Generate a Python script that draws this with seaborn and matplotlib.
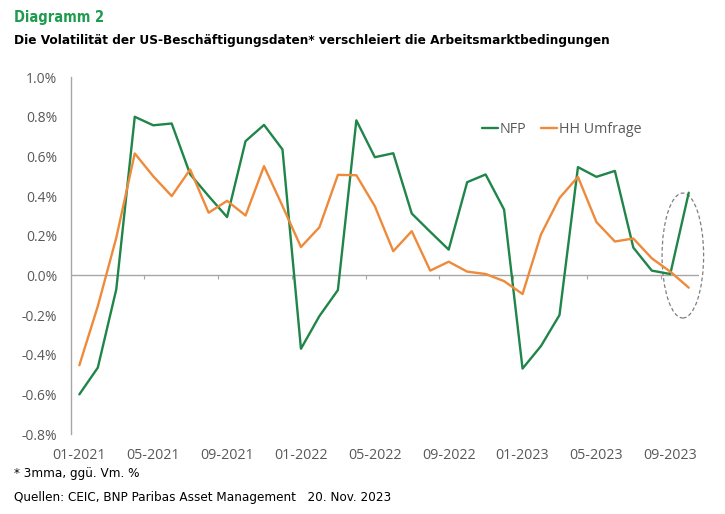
import pandas as pd
import seaborn as sns
import matplotlib.pyplot as plt
from matplotlib.patches import Ellipse

# Monthly values, 3mma m/m in %, Jan 2021 .. Oct 2023
months = pd.date_range("2021-01-01", "2023-10-01", freq="MS").strftime("%m-%Y").tolist()
nfp = [-0.60, -0.465, -0.07, 0.80, 0.757, 0.766, 0.51, 0.40, 0.294, 0.677, 0.759, 0.635,
       -0.37, -0.205, -0.074, 0.782, 0.596, 0.616, 0.312, 0.22, 0.13, 0.47, 0.509, 0.332,
       -0.47, -0.356, -0.20, 0.546, 0.497, 0.527, 0.14, 0.024, 0.007, 0.417]
hh_umfrage = [-0.453, -0.155, 0.19, 0.615, 0.50, 0.40, 0.534, 0.316, 0.376, 0.302, 0.551, 0.35,
              0.143, 0.243, 0.507, 0.505, 0.349, 0.122, 0.223, 0.024, 0.069, 0.019, 0.007, -0.029,
              -0.094, 0.207, 0.39, 0.497, 0.269, 0.171, 0.186, 0.086, 0.019, -0.062]
series_names = ["NFP", "HH Umfrage"]
y_ticks = [-0.8, -0.6, -0.4, -0.2, 0.0, 0.2, 0.4, 0.6, 0.8, 1.0]

green = "#1f8549"
orange = "#ee8a3a"
grey_text = "#595959"
grey_line = "#a6a6a6"

df = pd.DataFrame({
    "idx": list(range(len(months))) * 2,
    "value": nfp + hh_umfrage,
    "series": [series_names[0]] * len(months) + [series_names[1]] * len(months),
})

sns.set_style("white")
plt.rcParams["font.family"] = ["Open Sans", "DejaVu Sans"]
head_font = dict(family="DejaVu Sans", fontstretch="condensed")

fig = plt.figure(figsize=(7.25, 5.14), dpi=100)
ax = fig.add_axes([0.098, 0.1556, 0.866, 0.6944])

sns.lineplot(data=df, x="idx", y="value", hue="series", palette=[green, orange],
             linewidth=1.7, ax=ax, legend=False)

ax.set_xlim(-0.45, 33.55)
ax.set_ylim(-0.8, 1.0)
ax.set_yticks(y_ticks)
ax.set_yticklabels([f"{v:.1f}%" for v in y_ticks], color=grey_text, fontsize=10)
ax.set_xticks(range(0, len(months), 4))
ax.set_xticklabels(months[::4], color=grey_text, fontsize=10.3)
ax.tick_params(axis="y", length=0, pad=10)
ax.tick_params(axis="x", length=0, pad=10)
ax.set_xlabel("")
ax.set_ylabel("")

for s in ["top", "right", "bottom"]:
    ax.spines[s].set_visible(False)
ax.spines["left"].set_color(grey_line)
ax.spines["left"].set_linewidth(1)
ax.axhline(0, color=grey_line, linewidth=1, zorder=1)

# small category tick marks on the zero line
sec = ax.secondary_xaxis(0.8 / 1.8)
sec.set_xticks([i + 3.5 for i in range(0, len(months) - 4, 4)])
sec.set_xticklabels([])
sec.tick_params(direction="out", length=3, color=grey_line)
sec.spines["bottom"].set_visible(False)

# dashed ellipse around latest values
ax.add_patch(Ellipse((32.68, 0.10), 2.25, 0.63, fill=False, linestyle=(0, (3, 2)),
                     edgecolor="#7f7f7f", linewidth=0.9, clip_on=False))

handles = [plt.Line2D([], [], color=green, linewidth=1.7),
           plt.Line2D([], [], color=orange, linewidth=1.7)]
leg = ax.legend(handles, series_names, loc="center left", bbox_to_anchor=(0.634, 0.852),
                ncol=2, frameon=False, handlelength=1.1, handletextpad=0.15,
                columnspacing=1.0, fontsize=10.3)
for t in leg.get_texts():
    t.set_color(grey_text)

fig.text(0.019, 0.966, "Diagramm 2", color="#1f9a4f", fontsize=10.5, fontweight="bold",
         va="center", **head_font)
fig.text(0.019, 0.922, "Die Volatilität der US-Beschäftigungsdaten* verschleiert die Arbeitsmarktbedingungen",
         color="black", fontsize=9.7, fontweight="bold", va="center", **head_font)
fig.text(0.019, 0.078, "* 3mma, ggü. Vm. %", color="black", fontsize=9.6, va="center", **head_font)
fig.text(0.019, 0.033, "Quellen: CEIC, BNP Paribas Asset Management   20. Nov. 2023",
         color="black", fontsize=9.6, va="center", **head_font)

fig.savefig("out.png", dpi=100)
